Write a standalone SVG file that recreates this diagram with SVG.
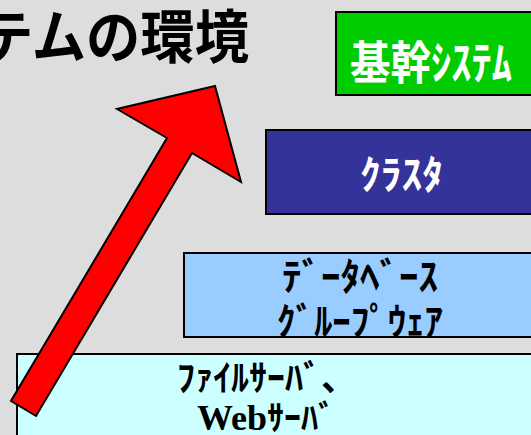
<svg xmlns="http://www.w3.org/2000/svg" width="531" height="435" viewBox="0 0 531 435">
<style>
.box{stroke:#000;stroke-width:2}
.jp{font-family:"Noto Sans CJK JP","Noto Sans",sans-serif;font-weight:bold;text-anchor:middle}
.w{fill:#fff}
.k{fill:#000}
</style>
<rect x="0" y="0" width="531" height="435" fill="#DDDDDD"/>
<g id="title">
<text class="jp k" x="249" y="58" font-size="58" style="text-anchor:end" textLength="270" lengthAdjust="spacingAndGlyphs">テムの環境</text>
</g>
<g id="node-kikan">
<rect class="box" x="336" y="12" width="210" height="83" fill="#00CC00"/>
<text class="jp w" x="431" y="79" font-size="46" textLength="162" lengthAdjust="spacingAndGlyphs">基幹ｼｽﾃﾑ</text>
</g>
<g id="node-cluster">
<rect class="box" x="266" y="130" width="280" height="84" fill="#333399"/>
<text class="jp w" x="401.5" y="189" font-size="40" textLength="83" lengthAdjust="spacingAndGlyphs">ｸﾗｽﾀ</text>
</g>
<g id="node-db">
<rect class="box" x="184" y="253" width="360" height="84" fill="#99CCFF"/>
<text class="jp k" x="360" y="290" font-size="38" textLength="156" lengthAdjust="spacingAndGlyphs">ﾃﾞｰﾀﾍﾞｰｽ</text>
<text class="jp k" x="360" y="335" font-size="38" textLength="166" lengthAdjust="spacingAndGlyphs">ｸﾞﾙｰﾌﾟｳｪｱ</text>
</g>
<g id="node-server">
<rect class="box" x="17" y="354" width="530" height="100" fill="#CCFFFF"/>
<text class="jp k" x="267" y="391" font-size="36" textLength="180" lengthAdjust="spacingAndGlyphs">ﾌｧｲﾙｻｰﾊﾞ、</text>
<text x="197" y="430" font-size="36" fill="#000"><tspan font-family="Liberation Serif, serif" font-weight="bold">Web</tspan><tspan font-family="Noto Sans CJK JP, sans-serif" font-weight="bold" font-size="34">ｻｰﾊﾞ</tspan></text>
</g>
<g id="connectors">
<polygon points="215,86 241,182 192,153 36,416 11,401 167,138 117,109" fill="#FF0000" stroke="#000" stroke-width="2" stroke-linejoin="miter"/>
</g>
</svg>
